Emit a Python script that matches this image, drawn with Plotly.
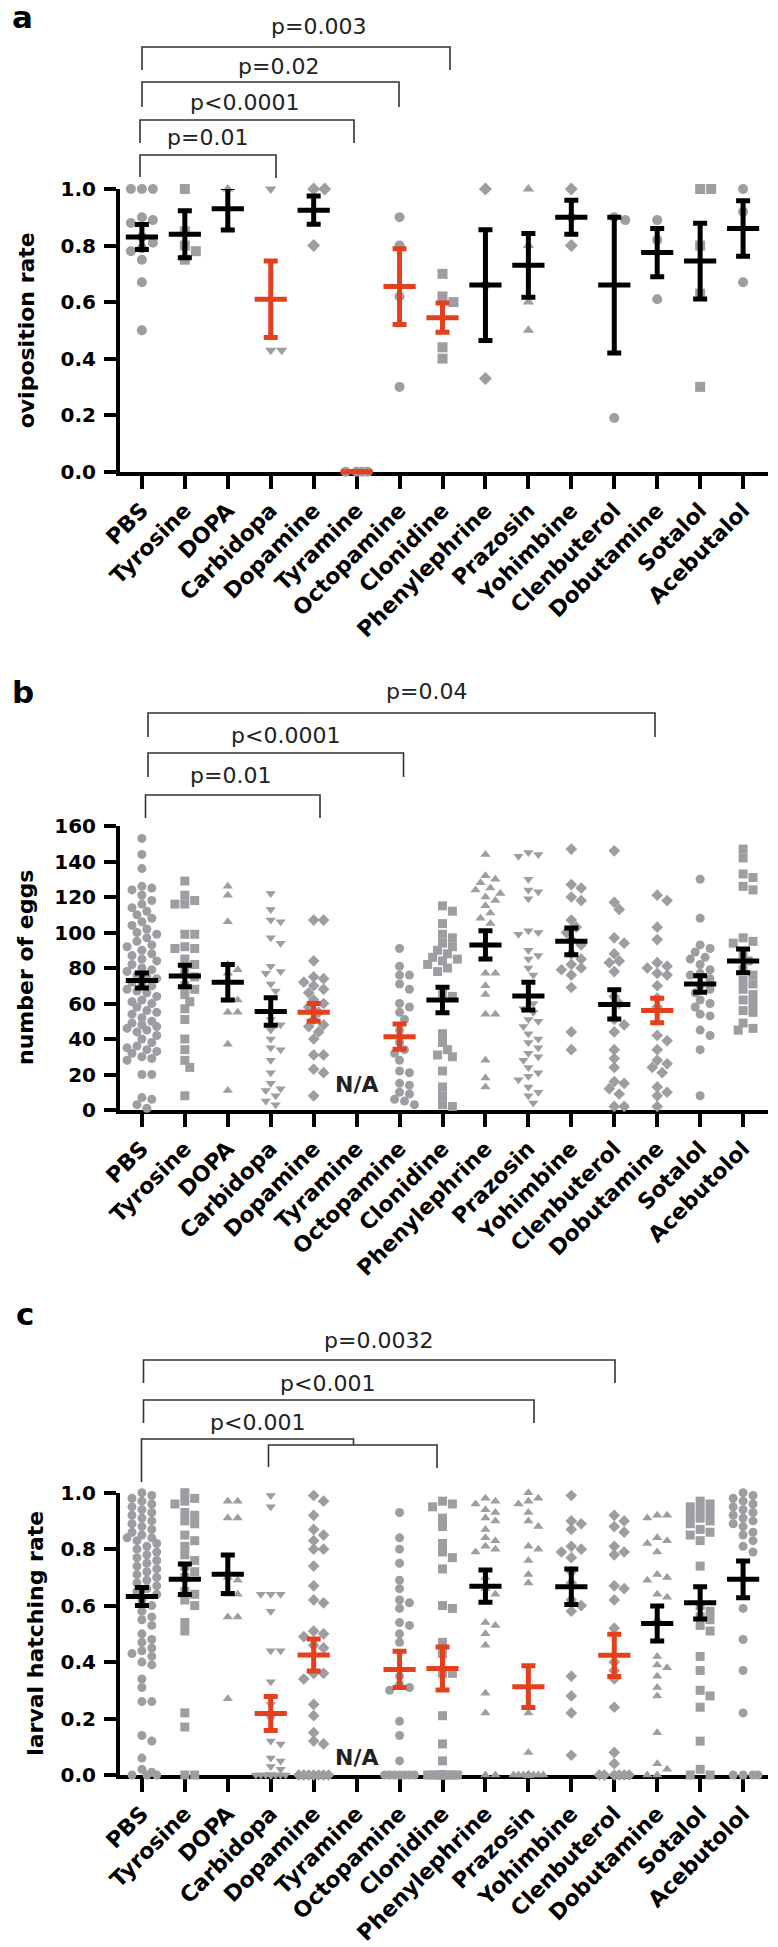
import math
import plotly.graph_objects as go

# ---------------- data ----------------
cats_a = ["PBS", "Tyrosine", "DOPA", "Carbidopa", "Dopamine", "Tyramine", "Octopamine",
          "Clonidine", "Phenylephrine", "Prazosin", "Yohimbine", "Clenbuterol",
          "Dobutamine", "Sotalol", "Acebutalol"]
cats_bc = ["PBS", "Tyrosine", "DOPA", "Carbidopa", "Dopamine", "Tyramine", "Octopamine",
           "Clonidine", "Phenylephrine", "Prazosin", "Yohimbine", "Clenbuterol",
           "Dobutamine", "Sotalol", "Acebutolol"]

# panel a: oviposition rate
ovi_points = [
    [1.0, 1.0, 1.0, 0.90, 0.89, 0.88, 0.83, 0.81, 0.79, 0.78, 0.75, 0.67, 0.50],
    [1.0, 0.85, 0.80, 0.78, 0.75],
    [1.0, 0.86],
    [1.0, 0.43, 0.43],
    [1.0, 1.0, 0.80],
    [0.0, 0.0, 0.0, 0.0],
    [0.90, 0.80, 0.62, 0.30],
    [0.70, 0.62, 0.60, 0.44, 0.40],
    [1.0, 0.66, 0.33],
    [1.0, 0.80, 0.60, 0.50],
    [1.0, 0.90, 0.80],
    [0.90, 0.89, 0.19],
    [0.89, 0.82, 0.61],
    [1.0, 1.0, 0.80, 0.63, 0.30],
    [1.0, 0.92, 0.67],
]
ovi_mean = [0.83, 0.84, 0.93, 0.61, 0.925, 0.0, 0.655, 0.545, 0.66, 0.73, 0.90, 0.66, 0.775, 0.745, 0.86]
ovi_sem = [0.044, 0.083, 0.075, 0.135, 0.05, 0.0, 0.134, 0.052, 0.196, 0.113, 0.06, 0.24, 0.085, 0.134, 0.098]
ovi_red = ["Carbidopa", "Tyramine", "Octopamine", "Clonidine"]
ovi_symbols = ["circle", "square", "triangle-up", "triangle-down", "diamond", "circle", "circle",
               "square", "diamond", "triangle-up", "diamond", "circle", "circle", "square", "circle"]

# panel b: number of eggs
egg_points = [
    [153, 144, 136, 126, 125, 124, 121, 118, 116, 114, 112, 110, 108, 106, 104, 102, 100, 99, 97, 95,
     93, 92, 90, 88, 87, 85, 84, 82, 80, 79, 78, 76, 75, 74, 72, 71, 70, 68, 67, 66, 64, 62, 61, 60,
     58, 56, 55, 54, 52, 50, 49, 48, 47, 46, 45, 44, 42, 40, 38, 36, 35, 34, 33, 32, 30, 29, 28, 20,
     20, 7, 6, 3, 1],
    [129, 121, 118, 116, 116, 99, 99, 92, 91, 91, 85, 82, 78, 75, 70, 68, 65, 61, 57, 51, 40, 34, 28, 24, 8],
    [126, 121, 106, 82, 79, 77, 62, 62, 55, 55, 37, 11],
    [122, 113, 107, 106, 97, 94, 81, 78, 77, 71, 67, 63, 51, 48, 45, 40, 35, 34, 28, 21, 15, 12, 11, 8, 5, 3],
    [107, 107, 84, 75, 74, 72, 70, 68, 66, 62, 60, 58, 55, 51, 48, 47, 44, 40, 31, 31, 23, 21, 8],
    [],
    [91, 81, 76, 76, 71, 68, 60, 58, 55, 51, 45, 38, 34, 32, 28, 22, 21, 15, 14, 10, 9, 6, 5, 3],
    [115, 112, 105, 99, 97, 94, 92, 90, 88, 86, 85, 84, 82, 80, 78, 66, 64, 43, 38, 34, 31, 30, 22, 13, 8, 3, 2],
    [144, 132, 130, 128, 125, 124, 122, 120, 118, 115, 111, 108, 105, 77, 77, 70, 65, 54, 54, 28, 18, 13],
    [145, 144, 143, 130, 124, 123, 119, 101, 100, 99, 90, 87, 85, 80, 76, 72, 64, 60, 57, 55, 51, 50, 47,
     43, 40, 38, 35, 32, 30, 28, 24, 21, 19, 17, 13, 10, 8, 4],
    [147, 127, 125, 120, 118, 107, 103, 100, 96, 93, 88, 85, 82, 80, 79, 76, 69, 44, 34],
    [146, 117, 113, 97, 94, 88, 84, 83, 78, 64, 60, 51, 48, 44, 34, 29, 24, 16, 15, 12, 9, 2, 2],
    [121, 118, 103, 96, 83, 81, 80, 77, 76, 70, 63, 58, 42, 39, 34, 28, 26, 24, 21, 13, 10, 8, 2],
    [130, 108, 93, 91, 89, 86, 85, 82, 79, 77, 76, 74, 70, 68, 66, 62, 60, 58, 54, 53, 45, 42, 34, 8],
    [147, 142, 133, 131, 126, 124, 97, 95, 94, 88, 84, 79, 76, 73, 71, 68, 65, 62, 60, 56, 55, 49, 46, 45],
]
egg_mean = [73, 75.5, 72, 55.5, 55, None, 41.3, 62, 93, 64.2, 95, 59.5, 56, 71, 84]
egg_sem = [4.2, 6, 10, 7.7, 5, None, 7.1, 7.2, 8, 7.8, 7.5, 8.3, 6.9, 4.6, 6.7]
egg_red = ["Dopamine", "Octopamine", "Dobutamine"]
egg_symbols = ["circle", "square", "triangle-up", "triangle-down", "diamond", "circle", "circle",
               "square", "triangle-up", "triangle-down", "diamond", "diamond", "diamond", "circle", "square"]

# panel c: larval hatching rate
hatch_points = [
    [1.0, 0.99, 0.98, 0.97, 0.96, 0.95, 0.94, 0.93, 0.92, 0.91, 0.90, 0.89, 0.88, 0.87, 0.86, 0.85,
     0.84, 0.84, 0.83, 0.82, 0.81, 0.80, 0.79, 0.78, 0.77, 0.76, 0.75, 0.74, 0.73, 0.72, 0.71, 0.70,
     0.69, 0.68, 0.67, 0.66, 0.65, 0.64, 0.62, 0.60, 0.58, 0.56, 0.55, 0.53, 0.50, 0.48, 0.47, 0.45,
     0.44, 0.43, 0.42, 0.40, 0.39, 0.34, 0.31, 0.26, 0.26, 0.14, 0.12, 0.06, 0.02, 0.01, 0.0, 0.0, 0.0],
    [1.0, 0.98, 0.97, 0.96, 0.93, 0.92, 0.90, 0.89, 0.85, 0.83, 0.81, 0.78, 0.76, 0.74, 0.72, 0.70,
     0.65, 0.64, 0.62, 0.60, 0.54, 0.51, 0.22, 0.17, 0.0, 0.0],
    [0.97, 0.97, 0.91, 0.91, 0.70, 0.69, 0.64, 0.64, 0.56, 0.56, 0.27],
    [0.99, 0.95, 0.64, 0.64, 0.64, 0.58, 0.44, 0.44, 0.33, 0.25, 0.20, 0.12, 0.11, 0.06, 0.05, 0.03,
     0.02, 0.0, 0.0, 0.0, 0.0, 0.0, 0.0, 0.0, 0.0, 0.0, 0.0, 0.0],
    [0.99, 0.97, 0.92, 0.87, 0.85, 0.83, 0.80, 0.80, 0.74, 0.67, 0.62, 0.61, 0.51, 0.50, 0.49, 0.46,
     0.45, 0.36, 0.36, 0.34, 0.25, 0.21, 0.15, 0.12, 0.11, 0.0, 0.0, 0.0, 0.0, 0.0, 0.0, 0.0],
    [],
    [0.93, 0.84, 0.80, 0.75, 0.69, 0.66, 0.62, 0.61, 0.59, 0.54, 0.53, 0.50, 0.47, 0.35, 0.32, 0.31,
     0.30, 0.19, 0.14, 0.05, 0.0, 0.0, 0.0, 0.0, 0.0, 0.0, 0.0],
    [0.97, 0.96, 0.95, 0.91, 0.88, 0.82, 0.79, 0.77, 0.73, 0.60, 0.59, 0.47, 0.43, 0.36, 0.36, 0.21,
     0.11, 0.05, 0.0, 0.0, 0.0, 0.0, 0.0, 0.0, 0.0, 0.0, 0.0, 0.0, 0.0],
    [0.98, 0.97, 0.96, 0.94, 0.93, 0.91, 0.90, 0.87, 0.84, 0.83, 0.81, 0.80, 0.79, 0.70, 0.66, 0.64,
     0.54, 0.53, 0.50, 0.46, 0.29, 0.22, 0.0, 0.0],
    [1.0, 0.98, 0.97, 0.96, 0.93, 0.90, 0.88, 0.81, 0.80, 0.76, 0.71, 0.68, 0.22, 0.08, 0.0, 0.0,
     0.0, 0.0, 0.0, 0.0, 0.0, 0.0, 0.0, 0.0, 0.0, 0.0, 0.0, 0.0, 0.0, 0.0, 0.0, 0.0, 0.0, 0.0],
    [0.99, 0.90, 0.89, 0.87, 0.81, 0.80, 0.79, 0.77, 0.72, 0.68, 0.62, 0.60, 0.58, 0.35, 0.28, 0.22, 0.07],
    [0.92, 0.90, 0.88, 0.86, 0.81, 0.79, 0.78, 0.67, 0.66, 0.62, 0.52, 0.40, 0.37, 0.34, 0.24, 0.08,
     0.04, 0.0, 0.0, 0.0, 0.0, 0.0, 0.0],
    [0.92, 0.92, 0.91, 0.84, 0.83, 0.82, 0.79, 0.71, 0.70, 0.69, 0.64, 0.63, 0.55, 0.42, 0.39, 0.38,
     0.35, 0.31, 0.28, 0.15, 0.04, 0.02, 0.0, 0.0],
    [0.97, 0.96, 0.95, 0.94, 0.93, 0.92, 0.91, 0.90, 0.89, 0.87, 0.86, 0.85, 0.83, 0.74, 0.60, 0.58,
     0.56, 0.55, 0.53, 0.51, 0.42, 0.37, 0.30, 0.28, 0.24, 0.12, 0.02, 0.0, 0.0],
    [1.0, 0.99, 0.98, 0.97, 0.96, 0.95, 0.94, 0.93, 0.92, 0.91, 0.90, 0.89, 0.88, 0.86, 0.85, 0.83,
     0.81, 0.79, 0.59, 0.48, 0.37, 0.22, 0.0, 0.0, 0.0, 0.0],
]
hatch_mean = [0.632, 0.693, 0.711, 0.218, 0.425, None, 0.374, 0.377, 0.669, 0.313, 0.667, 0.424, 0.537, 0.61, 0.693]
hatch_sem = [0.032, 0.054, 0.068, 0.06, 0.057, None, 0.064, 0.076, 0.057, 0.074, 0.063, 0.075, 0.062, 0.057, 0.065]
hatch_red = ["Carbidopa", "Dopamine", "Octopamine", "Clonidine", "Prazosin", "Clenbuterol"]
hatch_symbols = ["circle", "square", "triangle-up", "triangle-down", "diamond", "circle", "circle",
                 "square", "triangle-up", "triangle-up", "diamond", "diamond", "triangle-up", "square", "circle"]

# significance labels (comparison: left category, right category)
ovi_sig = [("p=0.01", 0, 3), ("p<0.0001", 0, 5), ("p=0.02", 0, 6), ("p=0.003", 0, 7)]
egg_sig = [("p=0.01", 0, 4), ("p<0.0001", 0, 6), ("p=0.04", 0, 12)]
hatch_sig = [("p<0.001", 0, 5), ("p<0.001", 0, 9), ("p=0.0032", 0, 11)]

# ---------------- layout geometry (pixels) ----------------
W, H = 778, 1947
AX_L, AX_R = 120, 768
XR = [-0.51, 14.58]
PX_PER_CAT = (AX_R - AX_L) / (XR[1] - XR[0])
GRAY = "#9d9da2"
RED = "#e5401e"
BLACK = "#000000"
FONT = "DejaVu Sans"


def px2x(px):
    return XR[0] + (px - AX_L) / PX_PER_CAT


def py2p(py):
    return 1 - py / H


def swarm(vals, px_per_unit, msize, maxw=16.0):
    step = msize * 0.55
    cands = [0.0]
    k = 1
    while k * step <= maxw + 1e-6:
        cands += [k * step, -k * step]
        k += 1
    placed = []
    res = [0.0] * len(vals)
    order = sorted(range(len(vals)), key=lambda i: -vals[i])
    for i in order:
        y = vals[i] * px_per_unit
        best = None
        bestd, bestc = -1, 0.0
        for c in cands:
            d = min((math.hypot(c - a, y - b) for a, b in placed), default=1e9)
            if d >= msize * 0.92:
                best = c
                break
            if d > bestd:
                bestd, bestc = d, c
        if best is None:
            best = bestc
        placed.append((best, y))
        res[i] = best
    return [r / PX_PER_CAT for r in res]


panels = [
    dict(cats=cats_a, pts=ovi_points, mean=ovi_mean, sem=ovi_sem, red=ovi_red, sym=ovi_symbols,
         top=189, bottom=471.7, yr=[0, 1.0], tickvals=[0, 0.2, 0.4, 0.6, 0.8, 1.0],
         ticktext=["0.0", "0.2", "0.4", "0.6", "0.8", "1.0"], msize=10,
         title="oviposition rate", title_x=26, letter="a", letter_xy=(22, 17), na=False, sig=ovi_sig,
         # bracket geometry in px: (left px, right px, bar y, left leg end, right leg end, text x, text y)
         geo=[(140, 276, 155, 177, 178, 207, 137), (140, 354, 120, 143, 143, 244, 102),
              (142, 399, 82, 107, 107, 278, 66), (142, 450, 47, 70, 70, 318, 27)]),
    dict(cats=cats_bc, pts=egg_points, mean=egg_mean, sem=egg_sem, red=egg_red, sym=egg_symbols,
         top=826, bottom=1110, yr=[0, 160], tickvals=[0, 20, 40, 60, 80, 100, 120, 140, 160],
         ticktext=["0", "20", "40", "60", "80", "100", "120", "140", "160"], msize=9,
         title="number of eggs", title_x=25, letter="b", letter_xy=(23, 692), na=True, na_y=1084,
         sig=egg_sig,
         geo=[(145.5, 320, 795, 818, 818, 230, 775), (148, 403.5, 753, 777, 777, 285, 735),
              (148, 655, 713, 737, 737, 426, 691)]),
    dict(cats=cats_bc, pts=hatch_points, mean=hatch_mean, sem=hatch_sem, red=hatch_red, sym=hatch_symbols,
         top=1492.7, bottom=1775, yr=[0, 1.0], tickvals=[0, 0.2, 0.4, 0.6, 0.8, 1.0],
         ticktext=["0.0", "0.2", "0.4", "0.6", "0.8", "1.0"], msize=9,
         title="larval hatching rate", title_x=36, letter="c", letter_xy=(25, 1314), na=True, na_y=1757,
         sig=hatch_sig,
         geo=[(141.5, 353.5, 1439, 1482, 1445, 257, 1422), (143.5, 534, 1400, 1423, 1423, 327, 1383),
              (143.5, 615, 1360, 1383, 1383, 378, 1340)]),
]

fig = go.Figure()
annotations = []
shapes = []
layout = {}

for k, P in enumerate(panels):
    sfx = "" if k == 0 else str(k + 1)
    xa, ya = "x" + sfx, "y" + sfx
    px_per_unit = (P["bottom"] - P["top"]) / (P["yr"][1] - P["yr"][0])

    xs, ys, syms = [], [], []
    for i, vals in enumerate(P["pts"]):
        offs = swarm(vals, px_per_unit, P["msize"])
        for v, o in zip(vals, offs):
            xs.append(i + o)
            ys.append(v)
            syms.append(P["sym"][i])
    fig.add_trace(go.Scatter(x=xs, y=ys, mode="markers", xaxis=xa, yaxis=ya, cliponaxis=False,
                             marker=dict(symbol=syms, size=P["msize"], color=GRAY, line=dict(width=0)),
                             showlegend=False, hoverinfo="skip"))

    for color, want_red in ((BLACK, False), (RED, True)):
        mx, my, me = [], [], []
        for i, c in enumerate(P["cats"]):
            if P["mean"][i] is None:
                continue
            if (c in P["red"]) != want_red:
                continue
            mx.append(i)
            my.append(P["mean"][i])
            me.append(P["sem"][i])
        fig.add_trace(go.Scatter(
            x=mx, y=my, mode="markers", xaxis=xa, yaxis=ya, cliponaxis=False,
            error_y=dict(type="data", array=me, visible=True, color=color, thickness=5, width=7),
            marker=dict(symbol="line-ew", size=23, color=color, line=dict(width=5, color=color)),
            showlegend=False, hoverinfo="skip"))

    dom_y = [py2p(P["bottom"]), py2p(P["top"])]
    layout["xaxis" + sfx] = dict(
        domain=[AX_L / W, AX_R / W], range=XR, anchor=ya, tickmode="array", automargin=False,
        tickvals=list(range(len(P["cats"]))), ticktext=P["cats"], tickangle=-45,
        ticks="outside", ticklen=13, tickwidth=3.5, tickcolor=BLACK,
        showline=True, linewidth=4, linecolor=BLACK, showgrid=False, zeroline=False,
        tickfont=dict(family=FONT, size=22, color=BLACK, weight="bold"), layer="below traces")
    layout["yaxis" + sfx] = dict(
        domain=dom_y, range=P["yr"], anchor=xa, tickmode="array", automargin=False,
        tickvals=P["tickvals"], ticktext=P["ticktext"],
        ticks="outside", ticklen=12, tickwidth=3.5, tickcolor=BLACK, ticklabelstandoff=4,
        showline=True, linewidth=4, linecolor=BLACK, showgrid=False, zeroline=False,
        tickfont=dict(family=FONT, size=20, color=BLACK, weight="bold"), layer="below traces")

    # axis title
    annotations.append(dict(text=P["title"], textangle=-90, xref="paper", yref="paper",
                             x=P["title_x"] / W, y=py2p((P["top"] + P["bottom"]) / 2),
                             xanchor="center", yanchor="middle", showarrow=False,
                             font=dict(family=FONT, size=22, color=BLACK, weight="bold")))
    # panel letter
    annotations.append(dict(text=P["letter"], xref="paper", yref="paper",
                             x=P["letter_xy"][0] / W, y=py2p(P["letter_xy"][1]),
                             xanchor="center", yanchor="middle", showarrow=False,
                             font=dict(family=FONT, size=31, color=BLACK, weight="bold")))
    if P["na"]:
        annotations.append(dict(text="N/A", xref=xa, yref="paper", x=P["cats"].index("Tyramine"),
                                y=py2p(P["na_y"]), xanchor="center", yanchor="middle",
                                showarrow=False,
                                font=dict(family=FONT, size=22, color="#222222", weight="bold")))

    # significance brackets
    for (label, c0, c1), (xl, xr, yb, yl, yr_, tx, ty) in zip(P["sig"], P["geo"]):
        path = "M {},{} L {},{} L {},{} L {},{}".format(
            px2x(xl), py2p(yl), px2x(xl), py2p(yb), px2x(xr), py2p(yb), px2x(xr), py2p(yr_))
        shapes.append(dict(type="path", path=path, xref=xa, yref="paper",
                           line=dict(color="#333333", width=1.6)))
        annotations.append(dict(text=label, xref=xa, yref="paper", x=px2x(tx), y=py2p(ty),
                                xanchor="center", yanchor="middle", showarrow=False,
                                font=dict(family=FONT, size=22, color="#222222")))

# extra bracket in panel c (Carbidopa - Clonidine, shares the lower p<0.001 label)
xl, xr, yb, yl, yr_ = 268.5, 437, 1445, 1467, 1468
shapes.append(dict(type="path", xref="x3", yref="paper",
                   path="M {},{} L {},{} L {},{} L {},{}".format(
                       px2x(xl), py2p(yl), px2x(xl), py2p(yb), px2x(xr), py2p(yb), px2x(xr), py2p(yr_)),
                   line=dict(color="#333333", width=1.6)))

fig.update_layout(template="none", width=W, height=H, margin=dict(l=0, r=0, t=0, b=0, pad=0),
                  autosize=False, paper_bgcolor="white", plot_bgcolor="white", showlegend=False,
                  annotations=annotations, shapes=shapes, **layout)

fig.write_html("out.html", config={"displayModeBar": False},
               post_script="document.body.style.margin='0px';")
